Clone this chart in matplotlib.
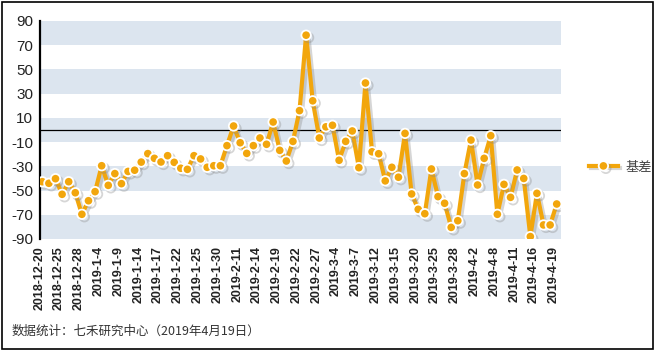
import numpy as np
import matplotlib
matplotlib.use('Agg')
import matplotlib.pyplot as plt
import matplotlib.patheffects as pe
from matplotlib.transforms import ScaledTranslation

plt.rcParams['font.family'] = ['Liberation Sans', 'Noto Sans CJK SC', 'DejaVu Sans']
plt.rcParams['axes.unicode_minus'] = False

# one label every third trading day
tick_labels = ['2018-12-20', '2018-12-25', '2018-12-28', '2019-1-4', '2019-1-9', '2019-1-14',
	'2019-1-17', '2019-1-22', '2019-1-25', '2019-1-30', '2019-2-11', '2019-2-14', '2019-2-19',
	'2019-2-22', '2019-2-27', '2019-3-4', '2019-3-7', '2019-3-12', '2019-3-15', '2019-3-20',
	'2019-3-25', '2019-3-28', '2019-4-2', '2019-4-8', '2019-4-11', '2019-4-16', '2019-4-19']

basis = [-42.7, -44, -40.2, -53.1, -42.7, -51.8, -69.6, -58.4, -50.9, -29.5,
	-45.7, -36, -44.3, -34.2, -33.2, -26.5, -19.5, -23.4, -26.4, -21.2,
	-26.7, -31.6, -32.5, -21.2, -23.9, -30.8, -29.5, -29.5, -12.9, 3.3,
	-10.5, -19.3, -12.9, -6.6, -11.8, 6.6, -16.8, -25.6, -9.4, 16,
	78.3, 24.1, -6.6, 2.6, 3.9, -25, -9.4, -0.8, -31.1, 38.8,
	-18, -19.6, -42, -30.8, -39, -2.8, -52.8, -65.5, -69.1, -32.2,
	-55, -60.5, -80.4, -74.9, -36, -8.3, -45.4, -23.4, -4.7, -69.6,
	-44.9, -55.6, -33, -40, -88, -52.3, -78.4, -78.4, -61.1]

series_name = '基差'
source_note = '数据统计：七禾研究中心（2019年4月19日）'

orange = '#f2a60c'
band = '#dce5ef'

fig = plt.figure(figsize=(6.55, 3.53), dpi=100)
ax = fig.add_axes([40 / 655, 1 - 239 / 353, 521 / 655, 218 / 353])

for lo in range(-90, 90, 40):
	ax.axhspan(lo, lo + 20, color=band, lw=0, zorder=0)
ax.axhline(0, color='black', lw=0.9, zorder=1)

x = np.arange(len(basis))
shadow = [pe.SimpleLineShadow(offset=(1.8, -1.8), shadow_color='#8a8a8a', alpha=0.35), pe.Normal()]
ax.plot(x, basis, color=orange, lw=3, marker='o', ms=6.8, mfc=orange, mec='white', mew=1.3,
	label=series_name, zorder=3, path_effects=shadow)

ax.set_xlim(-0.35, len(basis) - 0.35)
ax.set_ylim(-90, 90)
ax.set_yticks(range(-90, 91, 20))
ax.set_xticks(x[::3])
ax.set_xticklabels(tick_labels, rotation=90, fontsize=9, fontweight='bold', color='#222222')
ax.tick_params(axis='y', length=0, pad=5, labelsize=11, labelcolor='#222222')
ax.tick_params(axis='x', length=0, pad=5)
shift = ScaledTranslation(-3 / 100, 0, fig.dpi_scale_trans)
for lab in ax.get_xticklabels():
	lab.set_transform(lab.get_transform() + shift)

for side in ['top', 'right', 'bottom']:
	ax.spines[side].set_visible(False)
ax.spines['left'].set_linewidth(1.6)
ax.spines['left'].set_color('black')

fig.legend(loc='center left', bbox_to_anchor=(577 / 655, 1 - 167 / 353), frameon=False,
	handlelength=2.2, handletextpad=0.6, numpoints=1,
	prop={'family': ['Noto Sans CJK SC', 'DejaVu Sans'], 'size': 9.5}, labelcolor='#444444')

fig.text(12 / 655, 1 - 331 / 353, source_note, fontsize=9, color='#333333', va='center',
	family=['Noto Sans CJK SC', 'DejaVu Sans'])

border = plt.Rectangle((2 / 655, 4 / 353), 651 / 655, 347 / 353, transform=fig.transFigure,
	fill=False, edgecolor='black', lw=1.2)
fig.patches.append(border)

fig.savefig('out.png', dpi=100)
